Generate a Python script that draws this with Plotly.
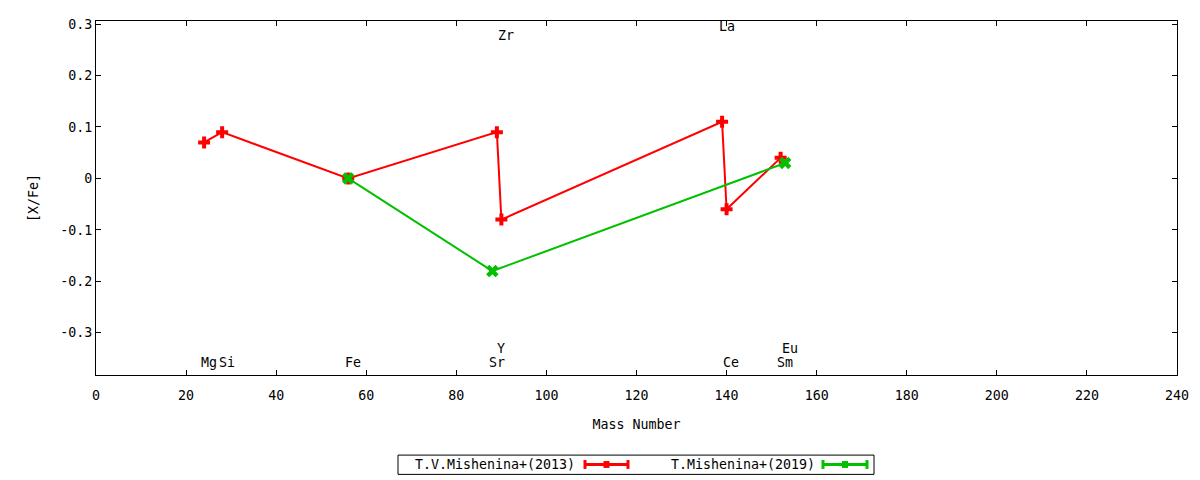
import plotly.graph_objs as go

# data
mass_2013 = [24, 28, 56, 89, 90, 139, 140, 152]
xfe_2013 = [0.07, 0.09, 0.0, 0.09, -0.08, 0.11, -0.06, 0.04]

mass_2019 = [56, 88, 153]
xfe_2019 = [0.0, -0.18, 0.03]

# element labels
elem_names = ["Mg", "Si", "Fe", "Sr", "Y", "Zr", "La", "Ce", "Sm", "Eu"]
elem_x = [25, 29, 57, 89, 90, 91, 140, 141, 153, 154]
elem_y = [-0.358, -0.358, -0.358, -0.358, -0.331, 0.277, 0.296, -0.358, -0.358, -0.331]

y_ticks = [-0.3, -0.2, -0.1, 0, 0.1, 0.2, 0.3]
y_ticktext = ["-0.3", "-0.2", "-0.1", "0", "0.1", "0.2", "0.3"]

series_names = ["T.V.Mishenina+(2013)", "T.Mishenina+(2019)"]
series_colors = ["#ff0000", "#00c000"]
series_symbols = ["cross", "x"]

FONT = "DejaVu Sans Mono"
FS = 13.3
# page body has an 8px margin, so the figure is drawn 8px in from the corner
OFF = 8
W, H = 1200 - OFF, 480 - OFF
L, R, T, B = 96 - OFF, 23, 17 - OFF, 105

fig = go.Figure()
fig.add_trace(go.Scatter(x=mass_2013, y=xfe_2013, mode="lines+markers",
                         name=series_names[0],
                         line=dict(color=series_colors[0], width=2),
                         marker=dict(symbol=series_symbols[0], size=10, color=series_colors[0])))
fig.add_trace(go.Scatter(x=mass_2019, y=xfe_2019, mode="lines+markers",
                         name=series_names[1],
                         line=dict(color=series_colors[1], width=2),
                         marker=dict(symbol=series_symbols[1], size=11, color=series_colors[1],
                                     line=dict(width=0))))

for name, x, y in zip(elem_names, elem_x, elem_y):
    fig.add_annotation(x=x, y=y, text=name, showarrow=False, xanchor="center", yanchor="middle",
                       font=dict(family=FONT, size=FS, color="black"))


# ---- hand made gnuplot-style legend (samples to the right of the text)
def px(x):
    return (x - OFF - L) / (W - L - R)


def py(y):
    return (H - B - (y - OFF)) / (H - T - B)


fig.add_shape(type="rect", xref="paper", yref="paper",
              x0=px(398), x1=px(874), y0=py(456), y1=py(475.5),
              line=dict(color="black", width=1))
legend_text_right = [577, 817]
legend_sample = [(585, 628), (823, 867)]
ly = py(465.5)
for i in range(2):
    fig.add_annotation(xref="paper", yref="paper", x=px(legend_text_right[i]), y=ly,
                       text=series_names[i], showarrow=False, xanchor="right", yanchor="middle",
                       font=dict(family=FONT, size=FS, color="black"))
    a, b = legend_sample[i]
    c = series_colors[i]
    fig.add_shape(type="line", xref="paper", yref="paper", x0=px(a), x1=px(b), y0=ly, y1=ly,
                  line=dict(color=c, width=3))
    for e in (a, b):
        fig.add_shape(type="line", xref="paper", yref="paper", x0=px(e), x1=px(e),
                      y0=py(461), y1=py(470), line=dict(color=c, width=3))
    m = (a + b) / 2
    fig.add_shape(type="rect", xref="paper", yref="paper", x0=px(m - 3), x1=px(m + 3),
                  y0=py(462), y1=py(469), line=dict(width=0), fillcolor=c)

axis_common = dict(showline=True, linecolor="black", linewidth=1, mirror="ticks",
                   ticks="inside", ticklen=5, tickcolor="black", showgrid=False,
                   zeroline=False, tickfont=dict(family=FONT, size=FS, color="black"))

fig.update_layout(
    width=W, height=H,
    margin=dict(l=L, r=R, t=T, b=B),
    paper_bgcolor="white", plot_bgcolor="white",
    showlegend=False,
    font=dict(family=FONT, size=FS, color="black"),
    xaxis=dict(range=[0, 240], tickmode="linear", tick0=0, dtick=20,
               ticklabelstandoff=8,
               title=dict(text="Mass Number", standoff=17,
                          font=dict(family=FONT, size=FS)),
               **axis_common),
    yaxis=dict(range=[-0.382, 0.306], tickvals=y_ticks, ticktext=y_ticktext,
               title=dict(text="[X/Fe]", standoff=18,
                          font=dict(family=FONT, size=FS)),
               **axis_common),
)

fig.write_html("out.html")
